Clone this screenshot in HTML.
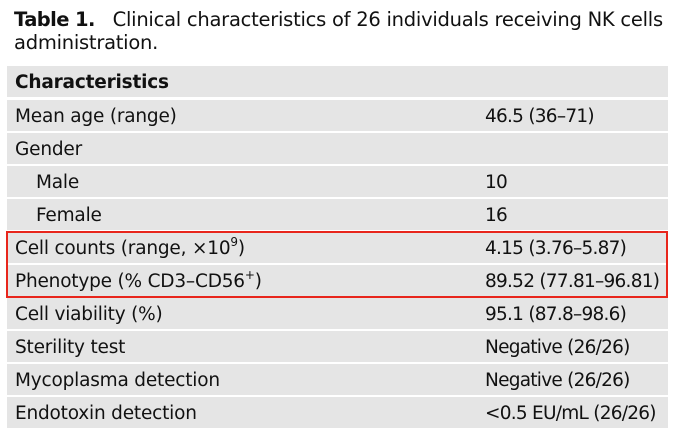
<!DOCTYPE html>
<html><head><style>
body{margin:0;width:679px;height:436px;background:#fff;font-family:"DejaVu Sans","Liberation Sans",sans-serif;color:#111;position:relative;overflow:hidden}
.t{position:absolute;left:14px;font-size:19.5px;line-height:22px;letter-spacing:-0.25px;white-space:nowrap}
.r{position:absolute;left:7px;width:661px;height:31px;background:#e5e5e5}
.r span{position:absolute;top:6px;font-size:18.5px;line-height:22px;white-space:nowrap;letter-spacing:-0.2px}
.r span.b{letter-spacing:-0.75px}
.a{left:8px}.b{left:478px}.i{left:29px}
sup{font-size:12px;line-height:0;vertical-align:8px}
.box{position:absolute;left:6px;top:231px;width:658px;height:63px;border:2.5px solid #e8261c}
</style></head><body>
<div class="t" style="top:9px"><b style="letter-spacing:-0.6px">Table 1.</b>&nbsp;&nbsp;&nbsp;Clinical characteristics of 26 individuals receiving NK cells</div>
<div class="t" style="top:32px">administration.</div>
<div class="r" style="top:66px"><span class="a"><b>Characteristics</b></span></div>
<div class="r" style="top:100px"><span class="a">Mean age (range)</span><span class="b">46.5 (36–71)</span></div>
<div class="r" style="top:133px"><span class="a">Gender</span></div>
<div class="r" style="top:166px"><span class="i">Male</span><span class="b">10</span></div>
<div class="r" style="top:199px"><span class="i">Female</span><span class="b">16</span></div>
<div class="r" style="top:232px"><span class="a">Cell counts (range, ×10<sup>9</sup>)</span><span class="b">4.15 (3.76–5.87)</span></div>
<div class="r" style="top:265px"><span class="a">Phenotype (% CD3–CD56<sup>+</sup>)</span><span class="b">89.52 (77.81–96.81)</span></div>
<div class="r" style="top:298px"><span class="a">Cell viability (%)</span><span class="b">95.1 (87.8–98.6)</span></div>
<div class="r" style="top:331px"><span class="a">Sterility test</span><span class="b">Negative (26/26)</span></div>
<div class="r" style="top:364px"><span class="a">Mycoplasma detection</span><span class="b">Negative (26/26)</span></div>
<div class="r" style="top:397px"><span class="a">Endotoxin detection</span><span class="b">&lt;0.5 EU/mL (26/26)</span></div>
<div class="box"></div>
</body></html>
